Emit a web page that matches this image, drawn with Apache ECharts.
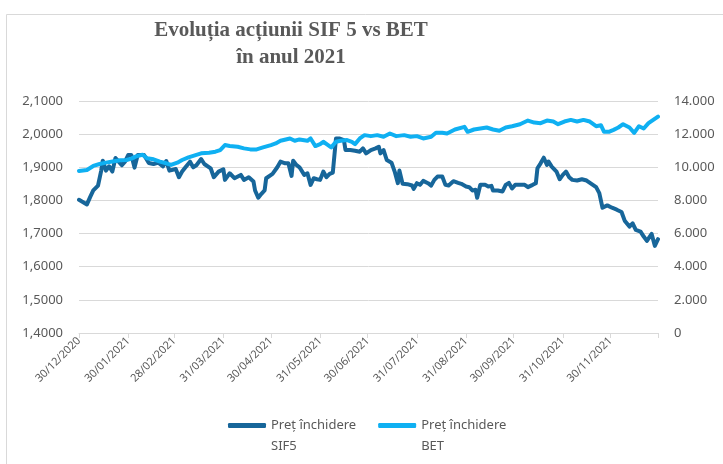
<!DOCTYPE html>
<html>
<head>
<meta charset="utf-8">
<script src="https://cdn.jsdelivr.net/npm/echarts@6/dist/echarts.min.js"></script>
<style>
html, body { margin: 0; padding: 0; background: #fff; }
#chart { width: 723px; height: 464px; }
</style>
</head>
<body>
<div id="chart"></div>
<script>
// SIF5 - pret inchidere (axa stanga)
var sif5Dates = ['2020-12-30','2021-01-04','2021-01-06','2021-01-08','2021-01-11','2021-01-13','2021-01-14','2021-01-16','2021-01-18','2021-01-20',
  '2021-01-22','2021-01-24','2021-01-26','2021-01-28','2021-01-30','2021-02-01','2021-02-03','2021-02-05','2021-02-09','2021-02-12',
  '2021-02-15','2021-02-18','2021-02-21','2021-02-23','2021-02-25','2021-03-01','2021-03-03','2021-03-05','2021-03-07','2021-03-10',
  '2021-03-12','2021-03-14','2021-03-17','2021-03-19','2021-03-23','2021-03-25','2021-03-28','2021-03-31','2021-04-01','2021-04-04',
  '2021-04-07','2021-04-11','2021-04-13','2021-04-16','2021-04-19','2021-04-20','2021-04-22','2021-04-24','2021-04-26','2021-04-27',
  '2021-05-01','2021-05-04','2021-05-06','2021-05-09','2021-05-11','2021-05-13','2021-05-14','2021-05-16','2021-05-18','2021-05-21',
  '2021-05-23','2021-05-25','2021-05-27','2021-05-29','2021-05-31','2021-06-02','2021-06-04','2021-06-06','2021-06-08','2021-06-10',
  '2021-06-12','2021-06-15','2021-06-16','2021-06-19','2021-06-22','2021-06-25','2021-06-27','2021-06-29','2021-07-02','2021-07-05',
  '2021-07-07','2021-07-08','2021-07-10','2021-07-12','2021-07-15','2021-07-17','2021-07-19','2021-07-20','2021-07-22','2021-07-25',
  '2021-07-28','2021-07-29','2021-07-31','2021-08-02','2021-08-04','2021-08-07','2021-08-09','2021-08-11','2021-08-13','2021-08-16',
  '2021-08-18','2021-08-20','2021-08-23','2021-08-26','2021-08-28','2021-08-31','2021-09-02','2021-09-04','2021-09-06','2021-09-07',
  '2021-09-09','2021-09-12','2021-09-14','2021-09-16','2021-09-17','2021-09-20','2021-09-23','2021-09-25','2021-09-27','2021-09-29',
  '2021-10-01','2021-10-04','2021-10-07','2021-10-09','2021-10-12','2021-10-14','2021-10-15','2021-10-17','2021-10-19','2021-10-21',
  '2021-10-22','2021-10-24','2021-10-27','2021-10-29','2021-10-31','2021-11-02','2021-11-04','2021-11-06','2021-11-09','2021-11-12',
  '2021-11-15','2021-11-18','2021-11-21','2021-11-23','2021-11-25','2021-11-28','2021-12-01','2021-12-04','2021-12-07','2021-12-09',
  '2021-12-12','2021-12-14','2021-12-16','2021-12-19','2021-12-21','2021-12-23','2021-12-26','2021-12-28','2021-12-30'];
var sif5Values = [1.802,1.788,1.810,1.830,1.845,1.890,1.920,1.890,1.903,1.887,
  1.928,1.917,1.906,1.917,1.937,1.937,1.899,1.937,1.937,1.913,
  1.910,1.914,1.903,1.919,1.890,1.895,1.870,1.887,1.899,1.917,
  1.900,1.906,1.925,1.910,1.897,1.870,1.887,1.894,1.862,1.882,
  1.867,1.877,1.862,1.870,1.857,1.830,1.808,1.820,1.830,1.867,
  1.880,1.900,1.917,1.912,1.912,1.874,1.920,1.907,1.900,1.877,
  1.882,1.847,1.867,1.864,1.862,1.887,1.870,1.880,1.884,1.987,
  1.987,1.982,1.952,1.952,1.950,1.947,1.957,1.942,1.952,1.957,
  1.962,1.942,1.952,1.922,1.914,1.887,1.852,1.890,1.850,1.849,
  1.845,1.835,1.852,1.847,1.859,1.852,1.845,1.862,1.872,1.872,
  1.847,1.845,1.858,1.853,1.850,1.842,1.840,1.830,1.832,1.808,
  1.847,1.847,1.842,1.844,1.830,1.830,1.827,1.847,1.853,1.836,
  1.847,1.847,1.847,1.840,1.847,1.852,1.897,1.912,1.929,1.907,
  1.917,1.902,1.887,1.864,1.877,1.887,1.870,1.862,1.860,1.864,
  1.860,1.850,1.840,1.822,1.778,1.785,1.778,1.772,1.765,1.739,
  1.721,1.731,1.711,1.706,1.691,1.678,1.699,1.663,1.683];

// BET - pret inchidere (axa dreapta)
var betDates = ['2020-12-30','2021-01-04','2021-01-08','2021-01-12','2021-01-16','2021-01-21','2021-01-25','2021-01-29','2021-02-01','2021-02-04',
  '2021-02-08','2021-02-11','2021-02-15','2021-02-19','2021-02-23','2021-02-26','2021-03-02','2021-03-05','2021-03-09','2021-03-13',
  '2021-03-17','2021-03-22','2021-03-26','2021-03-29','2021-04-01','2021-04-04','2021-04-09','2021-04-13','2021-04-17','2021-04-21',
  '2021-04-25','2021-04-30','2021-05-03','2021-05-06','2021-05-12','2021-05-15','2021-05-18','2021-05-23','2021-05-25','2021-05-28',
  '2021-05-31','2021-06-02','2021-06-05','2021-06-07','2021-06-10','2021-06-13','2021-06-17','2021-06-20','2021-06-22','2021-06-25',
  '2021-06-28','2021-07-02','2021-07-06','2021-07-10','2021-07-14','2021-07-18','2021-07-23','2021-07-27','2021-07-31','2021-08-04',
  '2021-08-09','2021-08-12','2021-08-16','2021-08-19','2021-08-24','2021-08-30','2021-09-01','2021-09-05','2021-09-09','2021-09-13',
  '2021-09-17','2021-09-21','2021-09-25','2021-09-29','2021-10-04','2021-10-09','2021-10-13','2021-10-17','2021-10-21','2021-10-25',
  '2021-10-28','2021-11-01','2021-11-05','2021-11-09','2021-11-13','2021-11-17','2021-11-21','2021-11-24','2021-11-26','2021-11-29',
  '2021-12-02','2021-12-05','2021-12-08','2021-12-12','2021-12-15','2021-12-18','2021-12-21','2021-12-24','2021-12-27','2021-12-30'];
var betValues = [9780,9840,10080,10200,10280,10360,10420,10440,10520,10660,
  10760,10540,10480,10340,10240,10140,10280,10440,10600,10720,
  10840,10880,10940,11040,11340,11280,11240,11140,11080,11080,
  11200,11340,11440,11600,11740,11600,11680,11600,11740,11280,
  11400,11540,11340,11200,11540,11600,11640,11540,11400,11740,
  11940,11880,11940,11840,12040,11880,11940,11840,11880,11740,
  11840,12080,12080,12040,12280,12440,12140,12280,12340,12400,
  12280,12200,12400,12480,12600,12820,12700,12660,12820,12760,
  12600,12760,12860,12760,12860,12760,12480,12540,12140,12140,
  12260,12400,12600,12400,12080,12480,12340,12660,12860,13060];

// axa X: gradatii lunare si etichete
var tickDates = ['2020-12-30','2021-01-30','2021-02-28','2021-03-31','2021-04-30','2021-05-31','2021-06-30',
  '2021-07-31','2021-08-31','2021-09-30','2021-10-31','2021-11-30','2021-12-30'];
var labelDates = tickDates.slice(0, 12);

var chart = echarts.init(document.getElementById('chart'));
var grey = '#595959';
var lineGrey = '#d9d9d9';

function ts(d) {
  var p = d.split('-');
  return Date.UTC(+p[0], +p[1] - 1, +p[2]);
}
function pair(dates, vals) {
  var out = [];
  for (var i = 0; i < dates.length; i++) out.push([ts(dates[i]), vals[i]]);
  return out;
}
function pad2(n) { return (n < 10 ? '0' : '') + n; }

chart.setOption({
  animation: false,
  title: {
    text: 'Evoluția acțiunii SIF 5 vs BET\nîn anul 2021',
    left: 286,
    top: 12,
    textAlign: 'center',
    textStyle: {
      fontFamily: 'Liberation Serif',
      fontSize: 21,
      fontWeight: 'bold',
      color: grey,
      lineHeight: 27,
      align: 'center'
    }
  },
  graphic: [{
    type: 'rect',
    shape: { x: 6.5, y: 14.5, width: 740, height: 480 },
    style: { fill: 'none', stroke: lineGrey, lineWidth: 1 },
    silent: true
  }],
  grid: { left: 79, right: 65, top: 101, bottom: 131 },
  legend: {
    left: 228,
    top: 394,
    padding: 0,
    icon: 'roundRect',
    itemWidth: 38,
    itemHeight: 5,
    itemGap: 22,
    textStyle: {
      fontFamily: 'Noto Sans',
      fontSize: 13,
      color: grey,
      lineHeight: 21
    },
    formatter: function (name) { return ' \n' + name; },
    data: ['Preț închidere\nSIF5', 'Preț închidere\nBET']
  },
  xAxis: {
    type: 'value',
    min: ts('2020-12-30'),
    max: ts('2021-12-30'),
    axisLine: { onZero: false, lineStyle: { color: lineGrey, width: 1 } },
    axisTick: { show: true, length: 5, lineStyle: { color: lineGrey }, customValues: tickDates.map(ts) },
    splitLine: { show: false },
    axisLabel: {
      customValues: labelDates.map(ts),
      rotate: 45,
      margin: 6,
      fontFamily: 'Noto Sans',
      fontSize: 11,
      color: grey,
      formatter: function (v) {
        var d = new Date(v);
        return pad2(d.getUTCDate()) + '/' + pad2(d.getUTCMonth() + 1) + '/' + d.getUTCFullYear();
      }
    }
  },
  yAxis: [{
    type: 'value',
    min: 1.4,
    max: 2.1,
    interval: 0.1,
    axisLine: { show: false },
    axisTick: { show: false },
    splitLine: { lineStyle: { color: lineGrey, width: 1 } },
    axisLabel: {
      margin: 16,
      fontFamily: 'Noto Sans',
      fontSize: 13,
      color: grey,
      formatter: function (v) { return v.toFixed(4).replace('.', ','); }
    }
  }, {
    type: 'value',
    min: 0,
    max: 14000,
    interval: 2000,
    axisLine: { show: false },
    axisTick: { show: false },
    splitLine: { show: false },
    axisLabel: {
      margin: 16,
      fontFamily: 'Noto Sans',
      fontSize: 13,
      color: grey,
      formatter: function (v) { return String(v).replace(/\B(?=(\d{3})+(?!\d))/g, '.'); }
    }
  }],
  series: [{
    name: 'Preț închidere\nSIF5',
    type: 'line',
    yAxisIndex: 0,
    showSymbol: false,
    symbol: 'none',
    lineStyle: { color: '#17669a', width: 4, cap: 'round', join: 'round' },
    itemStyle: { color: '#17669a' },
    data: pair(sif5Dates, sif5Values)
  }, {
    name: 'Preț închidere\nBET',
    type: 'line',
    yAxisIndex: 1,
    showSymbol: false,
    symbol: 'none',
    lineStyle: { color: '#0fb0f2', width: 4, cap: 'round', join: 'round' },
    itemStyle: { color: '#0fb0f2' },
    data: pair(betDates, betValues)
  }]
});
</script>
</body>
</html>
